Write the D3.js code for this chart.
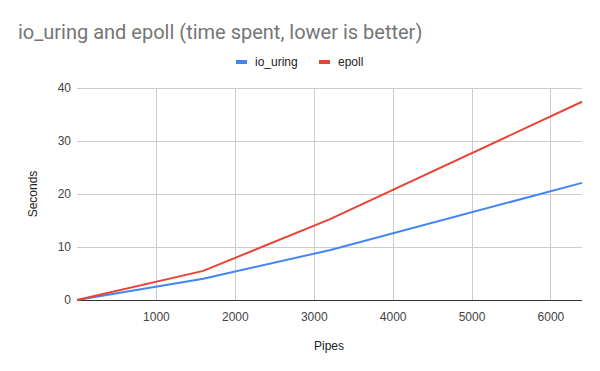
<!DOCTYPE html>
<html>
<head>
	<meta charset="utf-8">
	<title>io_uring and epoll</title>
<style>
body { margin: 0; background: #fff; }
.axis text {
	font-family: Arial, "Liberation Sans", sans-serif;
	font-size: 12px;
	fill: #444;
}
.grid line {
	stroke: #cccccc;
	stroke-width: 1;
}
</style>
</head>
<body>
<script src="https://cdn.jsdelivr.net/npm/d3@7"></script>
<script>
var pipes = [0, 1600, 3200, 6400];
var ioUring = [0, 4.0, 9.4, 22.1];
var epoll = [0, 5.5, 15.2, 37.4];
var xTicks = [1000, 2000, 3000, 4000, 5000, 6000];
var yTicks = [0, 10, 20, 30, 40];
var seriesNames = ["io_uring", "epoll"];
var colors = ["#4285F4", "#EA4335"];

var width = 600, height = 371;
var plotL = 77, plotR = 582, plotT = 88, plotB = 300;
var labelFont = "Arial, 'Liberation Sans', sans-serif";

var svg = d3.select("body").append("svg")
	.attr("width", width)
	.attr("height", height)
	.style("font-family", labelFont);

var x = d3.scaleLinear().domain([0, 6400]).range([plotL, plotR]);
var y = d3.scaleLinear().domain([0, 40]).range([plotB, plotT]);

// gridlines
svg.append("g").attr("class", "grid")
	.selectAll("line").data(xTicks).enter().append("line")
	.attr("x1", d => Math.round(x(d)) + 0.5).attr("x2", d => Math.round(x(d)) + 0.5)
	.attr("y1", plotT).attr("y2", plotB);
svg.append("g").attr("class", "grid")
	.selectAll("line").data(yTicks.slice(1)).enter().append("line")
	.attr("x1", plotL).attr("x2", plotR)
	.attr("y1", d => Math.round(y(d)) + 0.5).attr("y2", d => Math.round(y(d)) + 0.5);

// axes (labels only)
var axisY = d3.axisLeft(y).tickValues(yTicks).tickSize(0).tickPadding(6);
svg.append("g").attr("class", "axis")
	.attr("transform", "translate(" + plotL + ",0)")
	.call(axisY)
	.call(g => g.select(".domain").remove());

var axisX = d3.axisBottom(x).tickValues(xTicks).tickFormat(d3.format("d")).tickSize(0).tickPadding(12);
svg.append("g").attr("class", "axis")
	.attr("transform", "translate(0," + plotB + ")")
	.call(axisX)
	.call(g => g.select(".domain").remove());

// baseline
svg.append("line")
	.attr("x1", plotL).attr("x2", plotR)
	.attr("y1", y(0) + 0.5).attr("y2", y(0) + 0.5)
	.attr("stroke", "#333").attr("stroke-width", 1);

// lines
var line = d3.line()
	.x((d, i) => x(pipes[i]))
	.y(d => y(d));
[ioUring, epoll].forEach(function(vals, k) {
	svg.append("path")
		.datum(vals)
		.attr("d", line)
		.attr("fill", "none")
		.attr("stroke", colors[k])
		.attr("stroke-width", 2)
		.attr("stroke-linejoin", "round");
});

// title
svg.append("text")
	.attr("x", 18).attr("y", 39)
	.attr("font-family", "Roboto, Arial, sans-serif")
	.attr("font-size", 20)
	.attr("fill", "#757575")
	.text("io_uring and epoll (time spent, lower is better)");

// legend
var legendX = [236, 319];
seriesNames.forEach(function(name, k) {
	svg.append("rect")
		.attr("x", legendX[k]).attr("y", 60)
		.attr("width", 11).attr("height", 4)
		.attr("fill", colors[k]);
	svg.append("text")
		.attr("x", legendX[k] + 19).attr("y", 66)
		.attr("font-size", 12)
		.attr("fill", "#222")
		.text(name);
});

// axis titles
svg.append("text")
	.attr("x", 329).attr("y", 350)
	.attr("text-anchor", "middle")
	.attr("font-size", 12)
	.attr("fill", "#222")
	.text("Pipes");
svg.append("text")
	.attr("transform", "translate(37,194) rotate(-90)")
	.attr("text-anchor", "middle")
	.attr("font-size", 12)
	.attr("fill", "#222")
	.text("Seconds");
</script>
</body>
</html>
